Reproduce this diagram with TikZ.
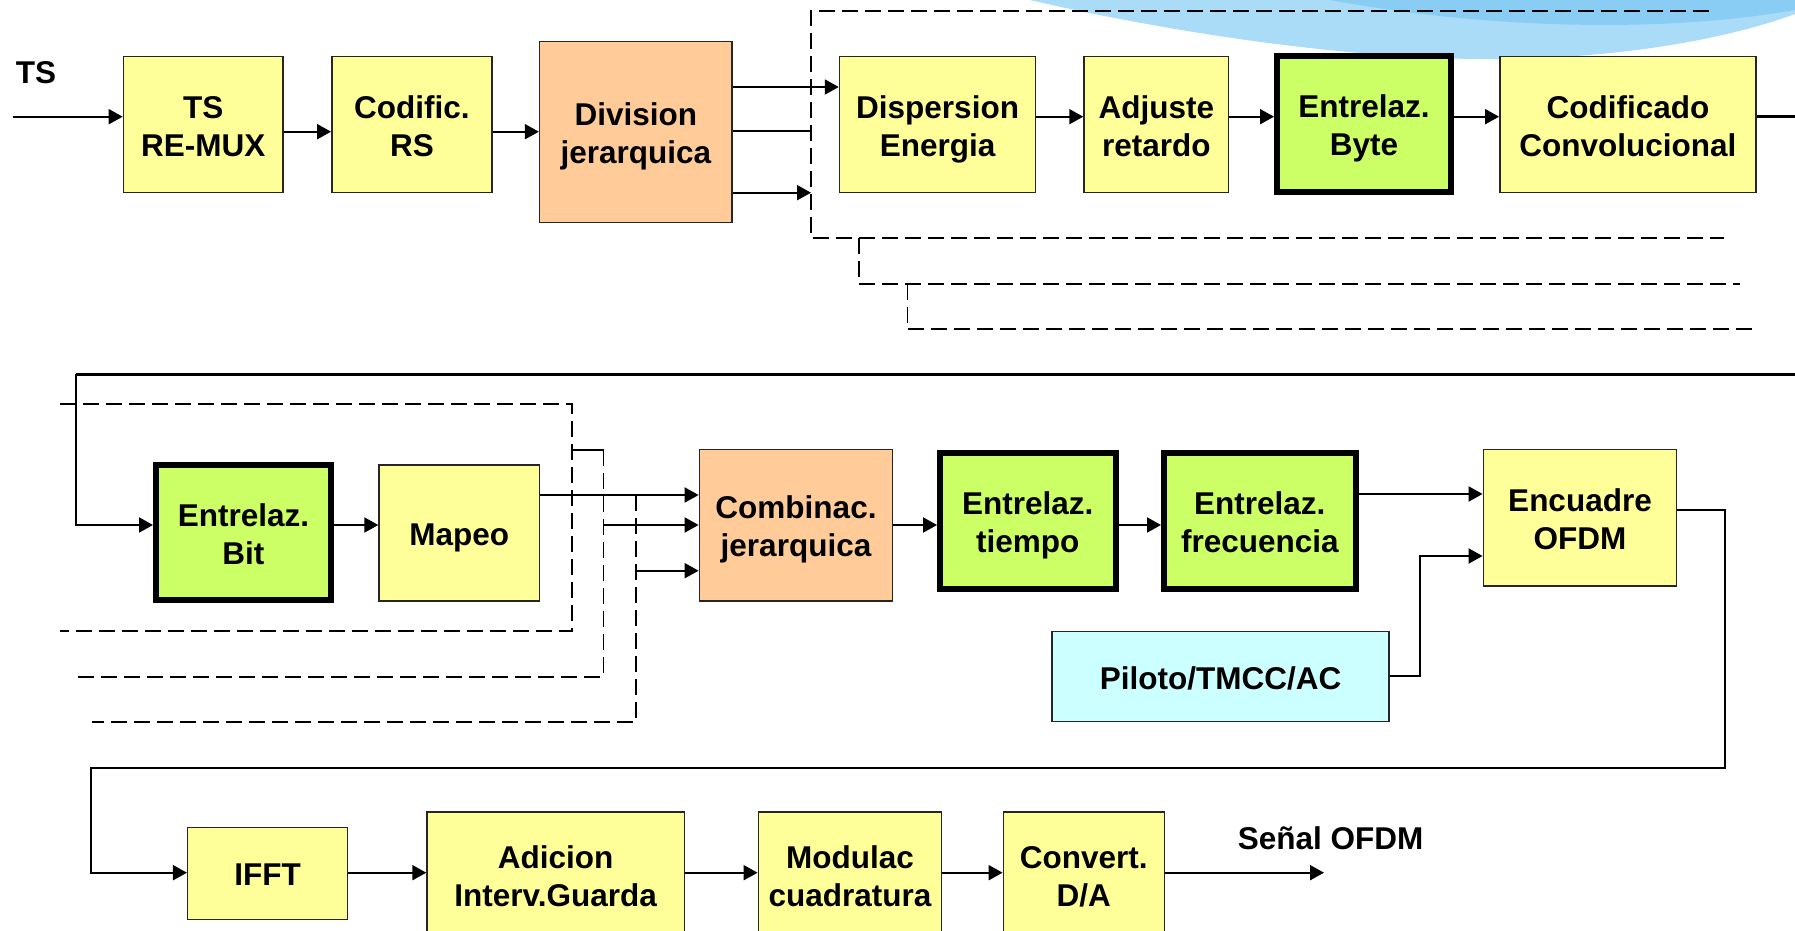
\documentclass[tikz,border=0pt]{standalone}
\usepackage{fontspec}
\setmainfont{Liberation Sans}
\usetikzlibrary{arrows.meta}
\definecolor{ybox}{HTML}{FFFF99}
\definecolor{obox}{HTML}{FFCC99}
\definecolor{gbox}{HTML}{CCFF66}
\definecolor{cbox}{HTML}{CCFFFF}
\definecolor{swA}{HTML}{AADCF8}
\definecolor{swB}{HTML}{8ACDF4}
\tikzset{
  blk/.style={draw=black!85, line width=0.75pt, inner sep=0pt, align=center,
    font=\bfseries\fontsize{15.75}{19}\selectfont,
    execute at end node={\rule[-4pt]{0pt}{4pt}}},
  tw/.style={execute at begin node={\rule{0pt}{35.4pt}}},
  on/.style={execute at begin node={\rule{0pt}{16.4pt}}},
  yel/.style={blk, fill=ybox},
  ora/.style={blk, fill=obox},
  cya/.style={blk, fill=cbox},
  grn/.style={blk, fill=gbox, draw=black, line width=3pt},
  arr/.style={line width=1pt, -{Triangle[length=7pt,width=7.5pt]}},
  wire/.style={line width=1pt},
  heavy/.style={line width=1.7pt},
  dsh/.style={line width=0.9pt, dash pattern=on 8pt off 3.5pt},
  lbl/.style={font=\bfseries\fontsize{15.75}{19}\selectfont, inner sep=0pt}
}
\begin{document}
\begin{tikzpicture}[x=0.5pt,y=-0.5pt]
\useasboundingbox (0,0) rectangle (1795,931);
\clip (0,0) rectangle (1795,931);
% background swoosh
\fill[swA] (1030,0) .. controls (1150,28) and (1330,58) .. (1480,59)
  .. controls (1620,60) and (1730,38) .. (1795,14) -- (1795,0) -- cycle;
\fill[swB] (1330,0) .. controls (1480,28) and (1660,34) .. (1795,10) -- (1795,0) -- cycle;

% row 1
\node[lbl] (tslbl) at (36,72.5) {TS};
\node[yel, tw, minimum width=79.8pt, minimum height=68pt] (remux) at (203.2,124.7) {TS\\RE-MUX};
\node[yel, tw, minimum width=80.1pt, minimum height=68pt] (rs) at (411.9,124.7) {Codific.\\RS};
\node[ora, tw, minimum width=96.2pt, minimum height=90.5pt] (div) at (635.8,132.2) {Division\\jerarquica};
\node[yel, tw, minimum width=98.1pt, minimum height=68pt] (disp) at (937.6,124.7) {Dispersion\\Energia};
\node[yel, tw, minimum width=72.3pt, minimum height=68pt] (ajuste) at (1156.3,124.7) {Adjuste\\retardo};
\node[grn, tw, minimum width=87pt, minimum height=67.85pt] (byte) at (1364,124.2) {Entrelaz.\\Byte};
\node[yel, tw, minimum width=128.1pt, minimum height=68pt] (conv) at (1627.9,124.7) {Codificado\\Convolucional};

% row 2
\node[grn, tw, minimum width=87.4pt, minimum height=67.65pt] (bit) at (243.4,532.7) {Entrelaz.\\Bit};
\node[yel, on, minimum width=80.25pt, minimum height=67.85pt] (mapeo) at (459.3,532.9) {Mapeo};
\node[ora, tw, minimum width=96.65pt, minimum height=75.85pt] (comb) at (796,525.2) {Combinac.\\jerarquica};
\node[grn, tw, minimum width=87.75pt, minimum height=68.15pt] (tiempo) at (1027.8,521.2) {Entrelaz.\\tiempo};
\node[grn, tw, minimum width=95.8pt, minimum height=68.15pt] (frec) at (1259.8,521.2) {Entrelaz.\\frecuencia};
\node[yel, tw, minimum width=96.7pt, minimum height=68.35pt] (encuadre) at (1580,517.7) {Encuadre\\OFDM};
\node[cya, on, minimum width=168.5pt, minimum height=45pt] (piloto) at (1220.5,676.7) {Piloto/TMCC/AC};

% row 3
\node[yel, on, minimum width=80pt, minimum height=46pt] (ifft) at (267.7,873.3) {IFFT};
\node[yel, tw, minimum width=128.65pt, minimum height=63pt] (adicion) at (555.7,875) {Adicion\\Interv.Guarda};
\node[yel, tw, minimum width=91.55pt, minimum height=63pt] (modulac) at (849.9,875) {Modulac\\cuadratura};
\node[yel, tw, minimum width=80.45pt, minimum height=63pt] (convert) at (1083.8,875) {Convert.\\D/A};
\node[lbl] (senal) at (1330.7,838) {Señal OFDM};

% free ends
\coordinate (tsin) at (12.6,116.7);
\coordinate (dmid) at (811,131.5);
\coordinate (dbot) at (811,192.7);
\coordinate (convout) at (1800,116.7);
\coordinate (toprt) at (1800,374.3);
\coordinate (toplt) at (75.8,374.3);
\coordinate (e2) at (603.5,525);
\coordinate (e3) at (636,570.7);
\coordinate (senalend) at (1324,872.7);

% row 1 connectors
\draw[arr] (tsin) -- (remux.west |- tsin);
\draw[arr] (remux.east |- 0,131.7) -- (rs.west |- 0,131.7);
\draw[arr] (rs.east |- 0,131.7) -- (div.west |- 0,131.7);
\draw[arr] (div.east |- 0,87) -- (disp.west |- 0,87);
\draw[wire] (div.east |- dmid) -- (dmid);
\draw[arr] (div.east |- dbot) -- (dbot);
\draw[arr] (disp.east |- 0,116.7) -- (ajuste.west |- 0,116.7);
\draw[arr] (ajuste.east |- 0,116.7) -- (byte.west |- 0,116.7);
\draw[arr] (byte.east |- 0,116.7) -- (conv.west |- 0,116.7);
\draw[heavy] (conv.east |- convout) -- (convout);

% row 1 dashed frames
\draw[dsh] (1709,11) -- (811,11) -- (811,238) -- (1724,238);
\draw[dsh] (859,238) -- (859,283.7) -- (1740,283.7);
\draw[dsh] (907.5,283.7) -- (907.5,329) -- (1756,329);

% row 2 connectors
\draw[heavy] (toprt) -- (toplt);
\draw[arr] (toplt) -- (75.8,525) -- (bit.west |- 0,525);
\draw[arr] (bit.east |- 0,525) -- (mapeo.west |- 0,525);
\draw[arr] (mapeo.east |- 0,495) -- (comb.west |- 0,495);
\draw[arr] (e2) -- (comb.west |- e2);
\draw[arr] (e3) -- (comb.west |- e3);
\draw[arr] (comb.east |- 0,525) -- (tiempo.west |- 0,525);
\draw[arr] (tiempo.east |- 0,525) -- (frec.west |- 0,525);
\draw[arr] (frec.east |- 0,494) -- (encuadre.west |- 0,494);
\draw[arr] (piloto.east |- 0,676) -- (1420,676) -- (1420,556) -- (encuadre.west |- 0,556);
\draw[arr] (encuadre.east |- 0,510) -- (1725,510) -- (1725,767.5) -- (90.6,767.5) -- (90.6,872.7) -- (ifft.west |- 0,872.7);

% row 2 dashed
\draw[dsh] (59.7,403.7) -- (571.6,403.7) -- (571.6,631) -- (59.7,631);
\draw[wire] (571.6,450) -- (603.5,450);
\draw[dsh] (603.5,450) -- (603.5,676.7) -- (75.8,676.7);
\draw[dsh] (636,495) -- (636,721.7) -- (91.8,721.7);

% row 3 connectors
\draw[arr] (ifft.east |- 0,872.7) -- (adicion.west |- 0,872.7);
\draw[arr] (adicion.east |- 0,872.7) -- (modulac.west |- 0,872.7);
\draw[arr] (modulac.east |- 0,872.7) -- (convert.west |- 0,872.7);
\draw[arr] (convert.east |- senalend) -- (senalend);
\end{tikzpicture}
\end{document}
